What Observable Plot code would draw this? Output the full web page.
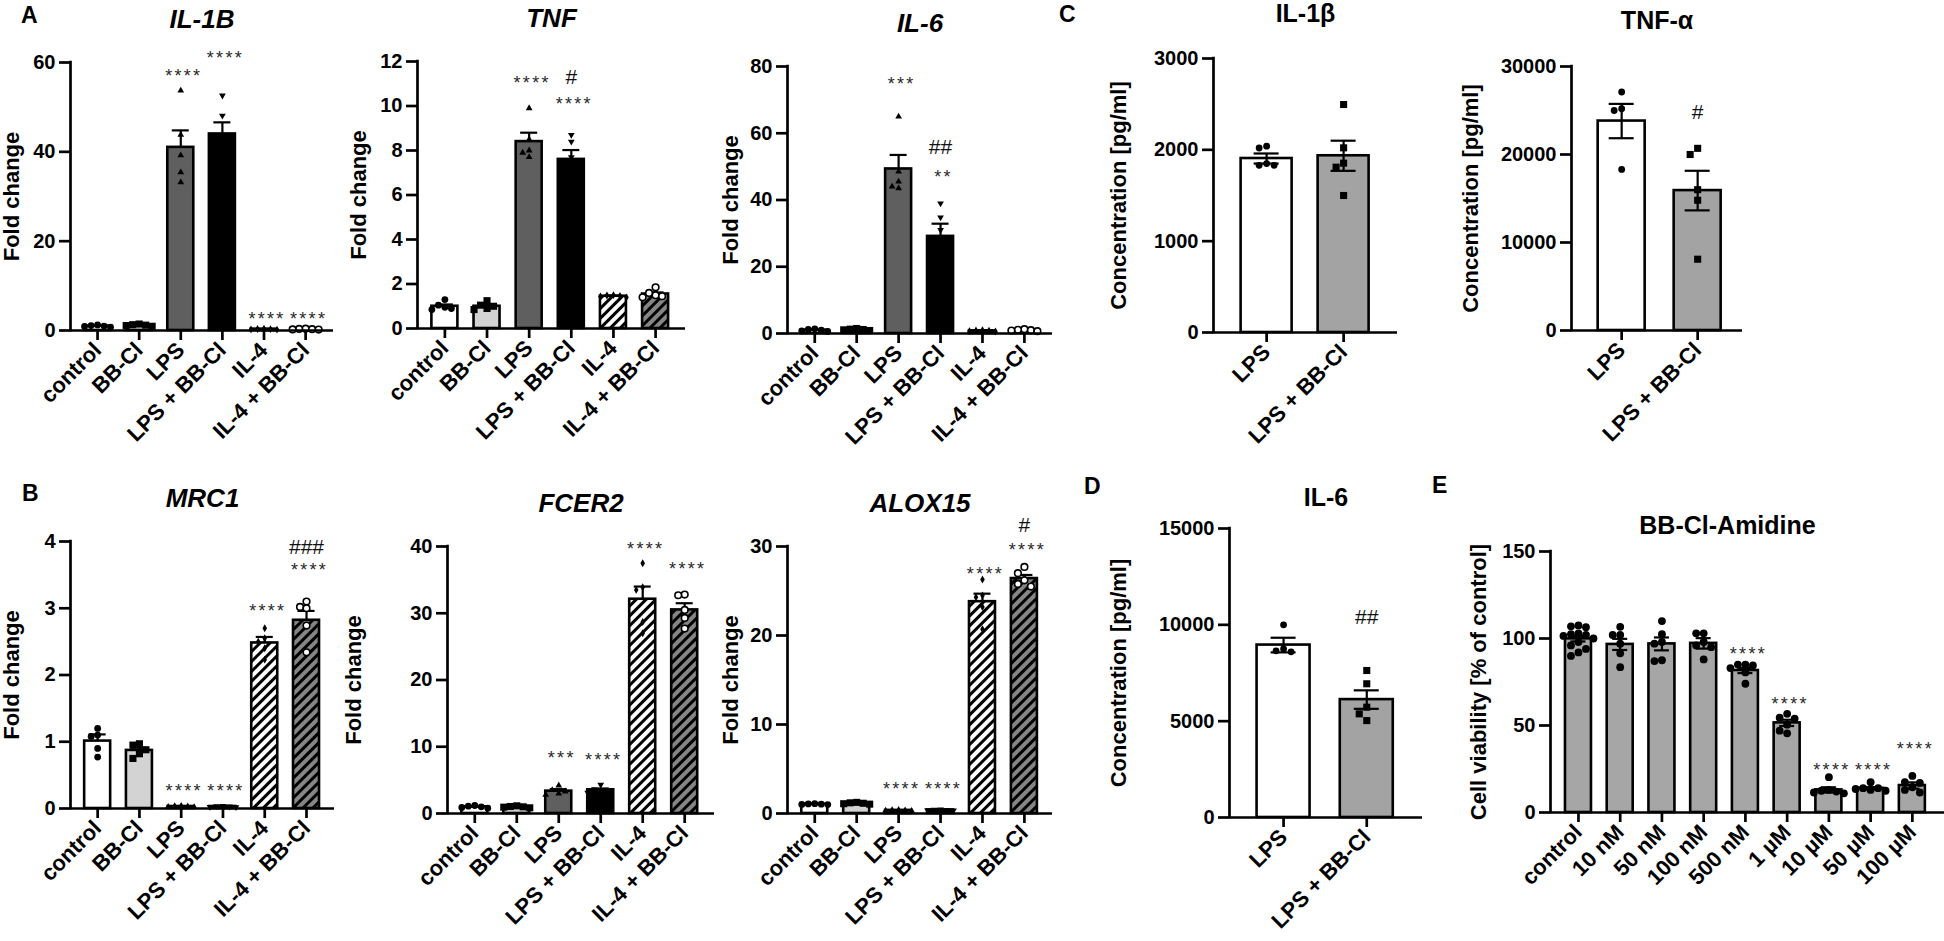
<!DOCTYPE html>
<html><head><meta charset="utf-8">
<script src="https://cdn.jsdelivr.net/npm/d3@7"></script>
<script src="https://cdn.jsdelivr.net/npm/@observablehq/plot@0.6"></script>
<style>
html,body{margin:0;padding:0;background:#fff;}
#fig{position:relative;width:1944px;height:941px;overflow:hidden;background:#fff;font-family:"Liberation Sans",Arial,sans-serif;color:#000;}
.letter{position:absolute;font-weight:bold;font-size:23px;line-height:1.15;}
#fig svg text{font-family:"Liberation Sans",Arial,sans-serif;}
g[aria-description="stars"] text{letter-spacing:2.3px;}
</style></head><body>
<svg width="0" height="0" style="position:absolute">
<defs>
<pattern id="hatch-white" patternUnits="userSpaceOnUse" width="7" height="7" patternTransform="rotate(45)">
<rect width="7" height="7" fill="#ffffff"/><rect width="3" height="7" fill="#000000"/></pattern>
<pattern id="hatch-gray" patternUnits="userSpaceOnUse" width="7" height="7" patternTransform="rotate(45)">
<rect width="7" height="7" fill="#858585"/><rect width="3" height="7" fill="#000000"/></pattern>
</defs></svg>
<div id="fig">
<div class="letter" style="left:21px;top:2px">A</div>
<div class="letter" style="left:22px;top:480px">B</div>
<div class="letter" style="left:1059px;top:1px">C</div>
<div class="letter" style="left:1084px;top:473px">D</div>
<div class="letter" style="left:1432px;top:472px">E</div>
</div>
<script>
// ---------- categories ----------
const geneGroups = ["control", "BB-Cl", "LPS", "LPS + BB-Cl", "IL-4", "IL-4 + BB-Cl"];
const lpsGroups = ["LPS", "LPS + BB-Cl"];
const doseGroups = ["control", "10 nM", "50 nM", "100 nM", "500 nM", "1 µM", "10 µM", "50 µM", "100 µM"];

// ---------- A: IL-1B ----------
const il1bMean = [1.0, 1.2, 41.0, 44.0, 0.3, 0.3];
const il1bSem = [0.1, 0.1, 3.8, 2.6, 0.03, 0.03];
const il1bPoints = [[1.25, 1.1, 1.0, 0.9, 0.75], [1.45, 1.3, 1.2, 1.1, 0.95], [53.7, 43.8, 39.2, 35.4, 33.2], [52.6, 48.1, 42.3, 40.0, 37.0], [0.4, 0.35, 0.3, 0.25, 0.2], [0.4, 0.35, 0.3, 0.25, 0.2]];
const il1bSig = [["LPS", "****", 58], ["LPS + BB-Cl", "****", 62], ["IL-4", "****", 3.6], ["IL-4 + BB-Cl", "****", 3.6]];
// ---------- A: TNF ----------
const tnfMean = [1.0, 1.0, 8.4, 7.6, 1.45, 1.55];
const tnfSem = [0.08, 0.08, 0.4, 0.42, 0.03, 0.07];
const tnfPoints = [[1.3, 1.05, 0.95, 0.9, 0.85], [1.25, 1.05, 1.0, 0.9, 0.85], [9.9, 8.5, 8.0, 7.9, 7.7], [8.7, 8.4, 7.7, 7.0, 6.2], [1.5, 1.48, 1.46, 1.44, 1.4], [1.85, 1.6, 1.5, 1.45, 1.4]];
const tnfSig = [["LPS", "****", 11.25], ["LPS + BB-Cl", "#", 11.3], ["LPS + BB-Cl", "****", 10.3]];
// ---------- A: IL-6 ----------
const il6Mean = [1.0, 1.2, 49.3, 29.1, 0.8, 1.0];
const il6Sem = [0.1, 0.1, 4.2, 3.8, 0.05, 0.1];
const il6Points = [[1.4, 1.2, 1.0, 0.8, 0.6], [1.5, 1.3, 1.2, 1.1, 0.9], [65, 48.5, 45.5, 44, 43.5], [39, 34.8, 31, 22, 18.7], [1.0, 0.9, 0.8, 0.7, 0.6], [1.3, 1.1, 1.0, 0.9, 0.7]];
const il6Sig = [["LPS", "***", 76.1], ["LPS + BB-Cl", "##", 55.8], ["LPS + BB-Cl", "**", 48.3]];
// ---------- B: MRC1 ----------
const mrc1Mean = [1.01, 0.87, 0.03, 0.03, 2.48, 2.82];
const mrc1Sem = [0.1, 0.04, 0.003, 0.003, 0.09, 0.14];
const mrc1Points = [[1.2, 1.1, 1.08, 0.9, 0.77], [0.97, 0.95, 0.88, 0.82, 0.75], [0.04, 0.035, 0.03, 0.025, 0.02], [0.04, 0.035, 0.03, 0.025, 0.02], [2.7, 2.55, 2.5, 2.4, 2.23], [3.1, 3.02, 3.0, 2.74, 2.34]];
const mrc1Sig = [["LPS", "****", 0.34], ["LPS + BB-Cl", "****", 0.34], ["IL-4", "****", 3.03], ["IL-4 + BB-Cl", "###", 3.91], ["IL-4 + BB-Cl", "****", 3.64]];
// ---------- B: FCER2 ----------
const fcer2Mean = [1.0, 1.0, 3.35, 3.55, 32.1, 30.5];
const fcer2Sem = [0.05, 0.05, 0.3, 0.2, 1.9, 1.0];
const fcer2Points = [[1.2, 1.1, 1.0, 0.9, 0.8], [1.15, 1.05, 1.0, 0.95, 0.85], [4.2, 3.5, 3.3, 3.0, 2.8], [4.3, 3.6, 3.5, 3.3, 3.1], [37.5, 33.9, 33.5, 28.7, 27.0], [32.8, 32.7, 30.5, 29.3, 27.7]];
const fcer2Sig = [["LPS", "***", 9.0], ["LPS + BB-Cl", "****", 8.8], ["IL-4", "****", 40.4], ["IL-4 + BB-Cl", "****", 37.4]];
// ---------- B: ALOX15 ----------
const alox15Mean = [1.05, 1.15, 0.35, 0.4, 23.8, 26.4];
const alox15Sem = [0.03, 0.04, 0.02, 0.02, 0.9, 0.4];
const alox15Points = [[1.1, 1.08, 1.05, 1.02, 1.0], [1.25, 1.2, 1.15, 1.1, 1.05], [0.4, 0.38, 0.35, 0.32, 0.3], [0.45, 0.42, 0.4, 0.38, 0.35], [26.3, 24.5, 24.3, 23.2, 20.7], [27.7, 27.0, 26.2, 25.8, 25.5]];
const alox15Sig = [["LPS", "****", 3.3], ["LPS + BB-Cl", "****", 3.3], ["IL-4", "****", 27.5], ["IL-4 + BB-Cl", "#", 32.4], ["IL-4 + BB-Cl", "****", 30.1]];
// ---------- C: IL-1β protein ----------
const il1bProtMean = [1905, 1935];
const il1bProtSem = [55, 165];
const il1bProtPoints = [[2040, 2020, 1850, 1830, 1830], [2496, 2022, 1854, 1810, 1500]];
const il1bProtSig = [];
// ---------- C: TNF-α protein ----------
const tnfProtMean = [23800, 15900];
const tnfProtSem = [1950, 2250];
const tnfProtPoints = [[27100, 25200, 25000, 18300], [20700, 20000, 16000, 14800, 8100]];
const tnfProtSig = [["LPS + BB-Cl", "#", 24800]];
// ---------- D: IL-6 protein ----------
const il6ProtMean = [8950, 6120];
const il6ProtSem = [380, 480];
const il6ProtPoints = [[10000, 8750, 8650, 8600], [7630, 6940, 5725, 5380, 5030]];
const il6ProtSig = [["LPS + BB-Cl", "##", 10400]];
// ---------- E: viability ----------
const viabMean = [99.8, 96.6, 96.9, 97.2, 81.6, 51.5, 13.0, 13.9, 15.5];
const viabSem = [1.5, 3.2, 3.7, 3.0, 1.5, 1.8, 1.5, 0.6, 1.8];
const viabPoints = [[107.5, 107, 106.5, 103, 102.5, 102, 101.5, 100, 98, 96, 94, 92, 90], [106.7, 102, 102, 97, 91.5, 83.5], [110, 102.5, 98, 97, 87.5, 87], [103, 103, 98, 96, 95, 88], [85, 85, 84.5, 83, 80.5, 74], [56.7, 54.5, 54, 50.5, 47, 45.5], [20.3, 13, 12.5, 12, 11.5, 11], [17.4, 14, 14, 13.5, 13, 12.5], [21, 17.5, 17, 14.5, 13, 11.5]];
const viabSig = [["500 nM", "****", 93.7], ["1 µM", "****", 65.3], ["10 µM", "****", 27.0], ["50 µM", "****", 27.0], ["100 µM", "****", 39.5]];

// ---------- styles ----------
const geneFills = ["#ffffff", "#d3d3d3", "#5f5f5f", "#000000", "url(#hatch-white)", "url(#hatch-gray)"];
const geneShapes = ["circle", "square", "triangle", "triangleDown", "diamond", "openCircle"];
const lpsFills = ["#ffffff", "#a3a3a3"];
const lpsShapes = ["circle", "square"];
const doseFills = doseGroups.map(() => "#a6a6a6");
const doseShapes = doseGroups.map(() => "circleBig");

const triangleDown = {
  draw(context, size) {
    const y = -Math.sqrt(size / (Math.sqrt(3) * 3));
    context.moveTo(0, -y * 2);
    context.lineTo(-Math.sqrt(3) * y, y);
    context.lineTo(Math.sqrt(3) * y, y);
    context.closePath();
  }
};
const shapeStyle = {
  circle: {symbol: "circle", r: 3.4, fill: "black"},
  circleBig: {symbol: "circle", r: 3.9, fill: "black"},
  square: {symbol: "square", r: 4.0, fill: "black"},
  triangle: {symbol: "triangle", r: 2.5, fill: "black"},
  triangleDown: {symbol: triangleDown, r: 2.5, fill: "black"},
  diamond: {symbol: "diamond", r: 2.4, fill: "black"},
  openCircle: {symbol: "circle", r: 3.3, fill: "white", stroke: "black", strokeWidth: 1.6}
};

// beeswarm-like horizontal spreading of overlapping points (in pixels, converted to units)
function swarm(values, i, pyu, pxu, gap) {
  const placed = [];
  values.slice().sort((a, b) => b - a).forEach(v => {
    const yp = v * pyu;
    for (let k = 0; k < 40; k++) {
      const slot = k === 0 ? 0 : (k % 2 ? -Math.ceil(k / 2) : Math.ceil(k / 2));
      const xp = slot * gap;
      if (placed.every(p => Math.hypot(p.xp - xp, p.yp - yp) >= gap)) { placed.push({xp, yp, v}); break; }
    }
  });
  return placed.map(p => ({x: i + p.xp / pxu, v: p.v}));
}

const fig = document.getElementById("fig");

function drawPanel(p) {
  const n = p.groups.length;
  const padL = p.padL ?? 0.65, padR = p.padR ?? 0.67;
  const mL = 130, mR = 12, mT = 75, mB = 140;
  const fw = p.x1 - p.x0, fh = p.yB - p.yT;
  const pxu = fw / (n - 1 + padL + padR);
  const pyu = fh / p.ymax;
  const bh = p.barPx / 2 / pxu, cap = p.capPx / 2 / pxu;
  const rows = p.groups.map((g, i) => ({g, i, mean: p.mean[i], sem: p.sem[i]}));
  const marks = [];
  rows.forEach((r, i) => marks.push(Plot.rect([r], {x1: d => d.i - bh, x2: d => d.i + bh, y1: 0, y2: "mean", fill: p.fills[i], stroke: "black", strokeWidth: 2.6})));
  marks.push(Plot.ruleX(rows, {x: "i", y1: d => p.twoSided ? d.mean - d.sem : d.mean, y2: d => d.mean + d.sem, strokeWidth: 2.2}));
  marks.push(Plot.ruleY(rows, {y: d => d.mean + d.sem, x1: d => d.i - cap, x2: d => d.i + cap, strokeWidth: 2.2}));
  if (p.twoSided) marks.push(Plot.ruleY(rows, {y: d => d.mean - d.sem, x1: d => d.i - cap, x2: d => d.i + cap, strokeWidth: 2.2}));
  p.points.forEach((vals, i) => {
    const st = shapeStyle[p.shapes[i]];
    marks.push(Plot.dot(swarm(vals, i, pyu, pxu, p.gap ?? 6.5), {x: "x", y: "v", ...st}));
  });
  marks.push(Plot.ruleY([0], {strokeWidth: 2.7}));
  marks.push(Plot.ruleX([-padL], {y1: 0, y2: p.ymax, strokeWidth: 2.7, strokeLinecap: "square"}));
  marks.push(Plot.axisY({ticks: d3.range(0, p.ymax + p.step / 2, p.step), tickSize: 11, tickPadding: 4, tickFormat: d3.format("d"), fontSize: 20, fontWeight: "bold", strokeWidth: 2.7, label: null}));
  marks.push(Plot.axisX({ticks: d3.range(n), tickFormat: t => p.groups[t], tickRotate: -45, tickSize: 10, tickPadding: 6, fontSize: 22, fontWeight: "bold", strokeWidth: 2.7, label: null}));
  marks.push(Plot.text([p.title], {frameAnchor: "top", lineAnchor: "middle", textAnchor: "middle", dy: -p.titleDy, dx: p.titleDx || 0, fontSize: p.titleSize, fontWeight: "bold", fontStyle: p.italic ? "italic" : "normal"}));
  marks.push(Plot.text([p.ylabel], {frameAnchor: "left", textAnchor: "middle", lineAnchor: "middle", rotate: -90, dx: p.ylabelDx, fontSize: 22, fontWeight: "bold"}));
  const stars = p.sig.filter(d => d[1].includes("*"));
  const hashes = p.sig.filter(d => d[1].includes("#"));
  marks.push(Plot.text(stars, {x: d => p.groups.indexOf(d[0]), y: d => d[2], text: d => d[1], fontSize: 18, fill: "#2a2a2a", dy: 5, dx: 3, ariaDescription: "stars"}));
  marks.push(Plot.text(hashes, {x: d => p.groups.indexOf(d[0]), y: d => d[2], text: d => d[1], fontSize: 21, fill: "#111"}));
  const svg = Plot.plot({
    width: fw + mL + mR, height: fh + mT + mB,
    marginLeft: mL, marginRight: mR, marginTop: mT, marginBottom: mB,
    style: {background: "transparent", overflow: "visible", fontFamily: "Liberation Sans, Arial, sans-serif", color: "black"},
    x: {domain: [-padL, n - 1 + padR]},
    y: {domain: [0, p.ymax]},
    marks
  });
  svg.style.position = "absolute";
  svg.style.left = (p.x0 - mL) + "px";
  svg.style.top = (p.yT - mT) + "px";
  svg.style.maxWidth = "none";
  fig.appendChild(svg);
}

const gene = {groups: geneGroups, fills: geneFills, shapes: geneShapes, barPx: 26, capPx: 17, twoSided: false, italic: true, titleSize: 26, ylabel: "Fold change", titleDy: 43};
const prot = {groups: lpsGroups, fills: lpsFills, shapes: lpsShapes, capPx: 25, twoSided: true, italic: false, titleSize: 25, ylabel: "Concentration [pg/ml]", gap: 7.5};

drawPanel({...gene, title: "IL-1B", mean: il1bMean, sem: il1bSem, points: il1bPoints, sig: il1bSig, x0: 70, x1: 333, yT: 62, yB: 330, ymax: 60, step: 20, ylabelDx: -59});
drawPanel({...gene, title: "TNF", mean: tnfMean, sem: tnfSem, points: tnfPoints, sig: tnfSig, x0: 417, x1: 685, yT: 61, yB: 328, ymax: 12, step: 2, ylabelDx: -59, padR: 0.71});
drawPanel({...gene, title: "IL-6", mean: il6Mean, sem: il6Sem, points: il6Points, sig: il6Sig, x0: 787, x1: 1052, yT: 66, yB: 333, ymax: 80, step: 20, ylabelDx: -57});
drawPanel({...gene, title: "MRC1", mean: mrc1Mean, sem: mrc1Sem, points: mrc1Points, sig: mrc1Sig, x0: 70, x1: 334, yT: 541, yB: 808, ymax: 4, step: 1, ylabelDx: -59});
drawPanel({...gene, title: "FCER2", mean: fcer2Mean, sem: fcer2Sem, points: fcer2Points, sig: fcer2Sig, x0: 447, x1: 714, yT: 546, yB: 813, ymax: 40, step: 10, ylabelDx: -94, padR: 0.71});
drawPanel({...gene, title: "ALOX15", mean: alox15Mean, sem: alox15Sem, points: alox15Points, sig: alox15Sig, x0: 787, x1: 1052, yT: 546, yB: 813, ymax: 30, step: 10, ylabelDx: -57});
drawPanel({...prot, title: "IL-1β", mean: il1bProtMean, sem: il1bProtSem, points: il1bProtPoints, sig: il1bProtSig, x0: 1213, x1: 1397, yT: 58, yB: 332, ymax: 3000, step: 1000, ylabelDx: -95, barPx: 51, titleDy: 45, padL: 0.69, padR: 0.7});
drawPanel({...prot, title: "TNF-α", mean: tnfProtMean, sem: tnfProtSem, points: tnfProtPoints, sig: tnfProtSig, x0: 1571, x1: 1742, yT: 66, yB: 330, ymax: 30000, step: 10000, ylabelDx: -101, barPx: 47, titleDy: 46, padL: 0.66, padR: 0.59});
drawPanel({...prot, title: "IL-6", mean: il6ProtMean, sem: il6ProtSem, points: il6ProtPoints, sig: il6ProtSig, x0: 1229, x1: 1422, yT: 528, yB: 817, ymax: 15000, step: 5000, ylabelDx: -111, barPx: 53, titleDy: 31, padL: 0.65, padR: 0.67});
drawPanel({groups: doseGroups, fills: doseFills, shapes: doseShapes, barPx: 26, capPx: 15, twoSided: true, italic: false, titleSize: 25, ylabel: "Cell viability [% of control]", titleDy: 26, titleDx: -20,
  title: "BB-Cl-Amidine", mean: viabMean, sem: viabSem, points: viabPoints, sig: viabSig, x0: 1550, x1: 1944, yT: 551, yB: 812, ymax: 150, step: 50, ylabelDx: -72, padL: 0.67, padR: 0.77, gap: 7.5});
</script>
</body></html>
